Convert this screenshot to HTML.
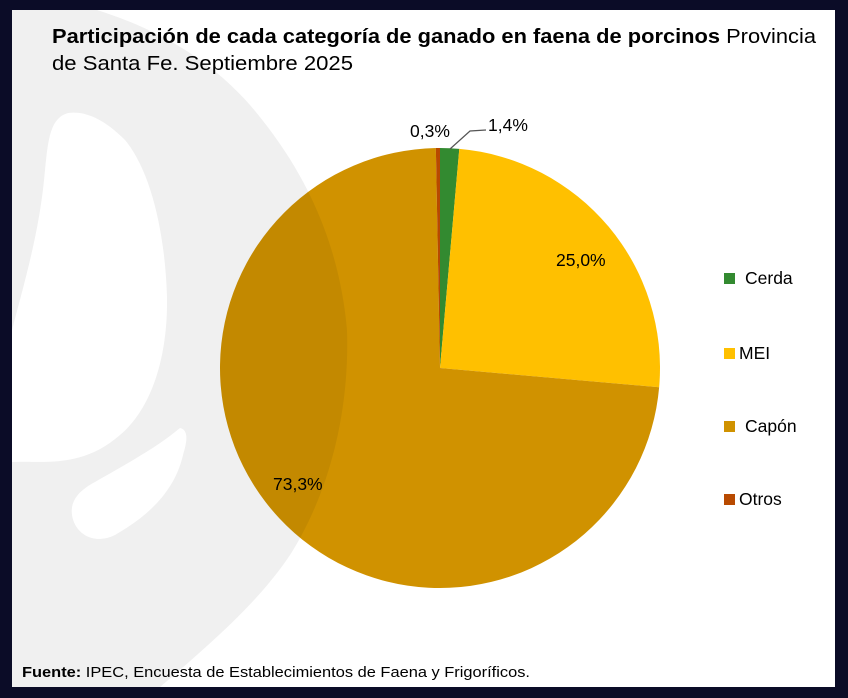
<!DOCTYPE html>
<html><head><meta charset="utf-8"><style>
html,body{margin:0;padding:0;background:#0b0c27;}
svg{display:block;}
</style></head><body>
<svg width="848" height="698" viewBox="0 0 848 698" xmlns="http://www.w3.org/2000/svg">
<rect x="0" y="0" width="848" height="698" fill="#0b0c27"/>
<rect x="12" y="10" width="823" height="677" fill="#ffffff"/>
<defs>
<clipPath id="c"><rect x="12" y="10" width="823" height="677"/></clipPath>
<clipPath id="pc"><circle cx="440" cy="368" r="220"/></clipPath>
<g id="wm">
<path d="M12,10 L97,10 C160,30 210,60 250,105 C310,175 340,250 347,330 C350,420 325,500 290,555 C260,600 215,640 160,687 L12,687 Z" fill="#f0f0f0"/>
<path d="M68,113 C90,110 110,125 125,140 C150,170 165,230 167,297 C168,360 150,410 120,435 C80,470 40,460 12,462 L12,330 C25,280 40,230 45,170 C48,140 50,118 68,113 Z" fill="#ffffff"/>
<path d="M180,428 C190,430 186,445 183,455 C175,490 150,515 115,535 C95,545 75,535 72,515 C70,500 80,490 95,482 C130,462 155,448 175,432 Z" fill="#ffffff"/>
</g>
</defs>
<g clip-path="url(#c)"><use href="#wm"/></g>
<g>
<path d="M440,368 L440,148 A220,220 0 0 1 459.3,148.85 Z" fill="#338a30"/>
<path d="M440,368 L459.3,148.85 A220,220 0 0 1 659.15,387.3 Z" fill="#ffc000"/>
<path d="M440,368 L659.15,387.3 A220,220 0 1 1 435.85,148.04 Z" fill="#d09200"/>
<path d="M440,368 L435.85,148.04 A220,220 0 0 1 440,148 Z" fill="#b84a00"/>
</g>
<g clip-path="url(#pc)" style="mix-blend-mode:multiply"><use href="#wm"/></g>
<polyline points="450,149 470,131 486,130" fill="none" stroke="#555" stroke-width="1.2"/>
<g font-family="Liberation Sans, Arial, sans-serif" font-size="17.5" fill="#000">
<text x="410" y="137">0,3%</text>
<text x="488" y="131">1,4%</text>
<text x="556" y="266">25,0%</text>
<text x="273" y="490">73,3%</text>
<rect x="724" y="273" width="11" height="11" fill="#338a30"/>
<text x="745" y="284">Cerda</text>
<rect x="724" y="348" width="11" height="11" fill="#ffc000"/>
<text x="739" y="359">MEI</text>
<rect x="724" y="421" width="11" height="11" fill="#d09200"/>
<text x="745" y="432">Capón</text>
<rect x="724" y="494" width="11" height="11" fill="#b84a00"/>
<text x="739" y="505">Otros</text>
</g>
<g font-family="Liberation Sans, Arial, sans-serif" font-size="20" fill="#000">
<text x="52" y="43" textLength="764" lengthAdjust="spacingAndGlyphs"><tspan font-weight="bold">Participación de cada categoría de ganado en faena de porcinos</tspan> Provincia</text>
<text x="52" y="70" textLength="301" lengthAdjust="spacingAndGlyphs">de Santa Fe. Septiembre 2025</text>
</g>
<text x="22" y="677" font-family="Liberation Sans, Arial, sans-serif" font-size="14.5" fill="#000" textLength="508" lengthAdjust="spacingAndGlyphs"><tspan font-weight="bold">Fuente:</tspan> IPEC, Encuesta de Establecimientos de Faena y Frigoríficos.</text>
</svg>
</body></html>
